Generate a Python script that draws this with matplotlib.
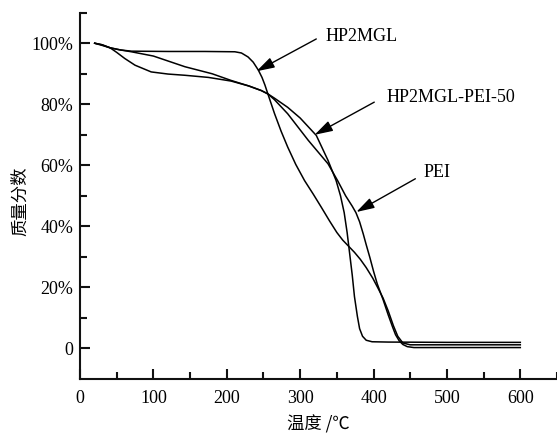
import matplotlib
matplotlib.use("Agg")
import matplotlib.pyplot as plt
import numpy as np

# ---- data ----
hp2mgl_T = [20, 30, 41, 55, 70, 120, 170, 211, 220, 229, 236, 243, 248, 252, 256, 265, 274, 283,
            294, 306, 318, 329, 340, 350, 358, 366, 374, 382, 390, 399, 406, 413, 420, 427, 433,
            440, 450, 480, 600]
hp2mgl_W = [100, 99.3, 98.5, 97.8, 97.4, 97.3, 97.3, 97.2, 96.8, 95.5, 93.8, 91.2, 88.8, 86.3, 83.4,
            77, 71.2, 66, 60.3, 55, 50.5, 46.2, 41.8, 38, 35.5, 33.5, 31.5, 29.2, 26.5, 23, 19.8,
            16.5, 12.3, 7.5, 4, 1.8, 1.2, 1.2, 1.2]

pei50_T = [20, 30, 41, 55, 70, 100, 143, 180, 206, 230, 247, 256, 265, 283, 300, 322, 338, 349, 355,
           360, 364, 367, 371, 374, 378, 381, 385, 390, 398, 420, 500, 600]
pei50_W = [100, 99.5, 98.5, 97.8, 97.2, 95.8, 92.3, 90, 87.8, 86, 84.5, 83.4, 82, 79, 75.5, 69.8,
           61.6, 55, 50, 44.5, 38, 32, 24, 17, 10.5, 6.5, 4, 2.7, 2.2, 2.1, 2.0, 2.0]

pei_T = [20, 30, 41, 50, 61, 75, 97, 120, 143, 175, 206, 230, 247, 256, 265, 283, 311, 338, 351, 362,
         371, 376, 381, 386, 390, 395, 400, 405, 413, 420, 426, 430, 435, 440, 446, 455, 500, 600]
pei_W = [100, 99.5, 98.5, 97, 95, 92.8, 90.6, 89.9, 89.5, 88.8, 87.6, 86, 84.5, 83.4, 81.5, 76.9,
         68.2, 60.5, 55, 50, 46.6, 44.5, 41.5, 37.5, 34, 29.8, 25.3, 21.2, 16, 11, 7, 4.5, 2.5, 1.3,
         0.6, 0.3, 0.3, 0.3]

x_ticks = [0, 100, 200, 300, 400, 500, 600]
y_ticks = [0, 20, 40, 60, 80, 100]
y_tick_labels = ["0", "20%", "40%", "60%", "80%", "100%"]

# annotations: (label, text centre, arrow tail, arrow tip) in data units
annotations = [
    ("HP2MGL", (384, 102.2), (322, 101.4), (240.4, 90.8)),
    ("HP2MGL-PEI-50", (505, 82.1), (401, 80.7), (319.7, 70.0)),
    ("PEI", (487, 57.7), (457, 55.6), (376.5, 44.7)),
]

serif = ["Liberation Serif", "DejaVu Serif"]
cjk = ["Noto Sans CJK SC", "DejaVu Sans"]

fig = plt.figure(figsize=(5.57, 4.34), dpi=100)
ax = fig.add_axes([80 / 557, (434 - 379) / 434, (557 - 80) / 557, (379 - 12.7) / 434])

lw = 1.1
ax.plot(hp2mgl_T, hp2mgl_W, color="black", lw=lw)
ax.plot(pei50_T, pei50_W, color="black", lw=lw)
ax.plot(pei_T, pei_W, color="black", lw=lw)

ax.set_xlim(0, 650)
ax.set_ylim(-10, 110)

for s in ["top", "right"]:
    ax.spines[s].set_visible(False)
for s in ["left", "bottom"]:
    ax.spines[s].set_linewidth(1.5)
    ax.spines[s].set_color("#111111")

ax.set_xticks(x_ticks)
ax.set_xticklabels([str(v) for v in x_ticks], fontfamily=serif, fontsize=13)
ax.set_xticks(np.arange(50, 651, 100), minor=True)
ax.set_yticks(y_ticks)
ax.set_yticklabels(y_tick_labels, fontfamily=serif, fontsize=13)
ax.set_yticks(np.arange(10, 111, 20), minor=True)
ax.tick_params(which="major", direction="in", length=7.5, width=1.5, color="#111111", pad=5)
ax.tick_params(which="minor", direction="in", length=4.8, width=1.5, color="#111111")
ax.tick_params(axis="x", which="major", pad=8)

ax.set_xlabel("温度 /℃", fontfamily=cjk, fontsize=12.5)
ax.xaxis.set_label_coords(0.5, (379 - 424.5) / 366.3)
ax.xaxis.label.set_va("center")
ax.set_ylabel("质量分数", fontfamily=cjk, fontsize=12.5)
ax.yaxis.set_label_coords((20 - 80) / 477, (379 - 201) / 366.3)
ax.yaxis.label.set_va("center")
ax.yaxis.label.set_ha("center")

for label, tpos, tail, tip in annotations:
    ax.text(tpos[0], tpos[1], label, fontfamily=serif, fontsize=13, ha="center", va="center")
    ax.annotate("", xy=tip, xytext=tail,
                arrowprops=dict(arrowstyle="-|>,head_length=1.1,head_width=0.33",
                                color="black", lw=1.0, shrinkA=0, shrinkB=0))

fig.savefig("out.png", dpi=100)
